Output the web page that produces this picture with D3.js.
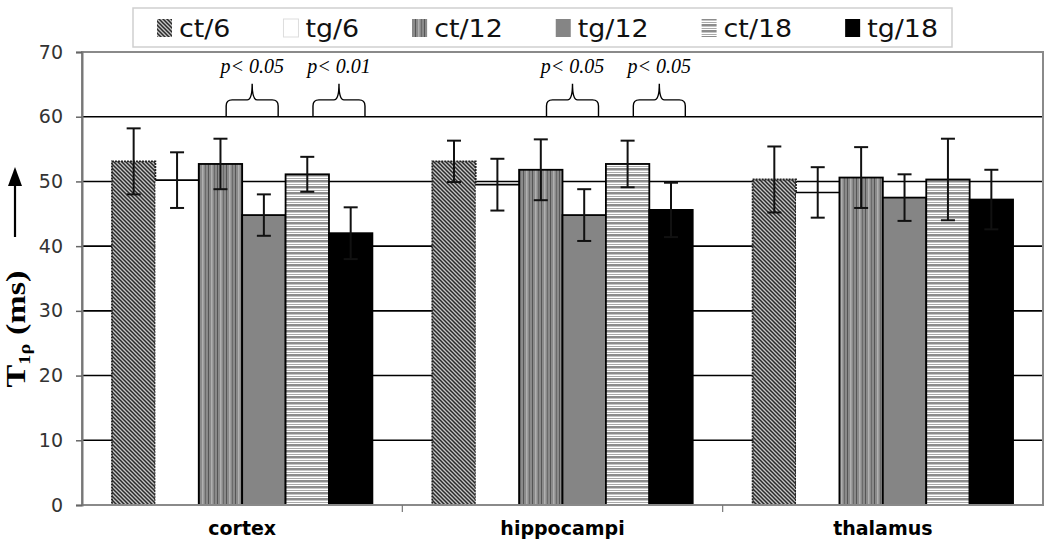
<!DOCTYPE html>
<html><head><meta charset="utf-8">
<script src="https://cdn.jsdelivr.net/npm/d3@7"></script>
<style>body{margin:0;background:#fff}</style>
</head><body>
<svg id="c" width="1050" height="543"></svg>
<script>
// ---- data ----
const categories = ["cortex", "hippocampi", "thalamus"];
const series = ["ct/6", "tg/6", "ct/12", "tg/12", "ct/18", "tg/18"];
const ct6  = [53.1, 53.1, 50.3];
const tg6  = [50.2, 49.5, 48.3];
const ct12 = [52.7, 51.8, 50.6];
const tg12 = [44.8, 44.8, 47.5];
const ct18 = [51.1, 52.7, 50.3];
const tg18 = [42.0, 45.6, 47.2];
const ct6Err  = [5.1, 3.2, 5.1];
const tg6Err  = [4.3, 4.0, 3.9];
const ct12Err = [3.9, 4.7, 4.7];
const tg12Err = [3.2, 4.0, 3.6];
const ct18Err = [2.7, 3.6, 6.3];
const tg18Err = [4.0, 4.2, 4.6];
const yTicks = [0, 10, 20, 30, 40, 50, 60, 70];
const sigCategory = ["cortex", "cortex", "hippocampi", "hippocampi"];
const sigLeft  = ["tg/12", "tg/18", "tg/12", "tg/18"];
const sigLabel = ["p< 0.05", "p< 0.01", "p< 0.05", "p< 0.05"];
const yLabelMain = "T", yLabelSub = "1\u03C1", yLabelUnit = " (ms)";

const values = [ct6, tg6, ct12, tg12, ct18, tg18];
const errors = [ct6Err, tg6Err, ct12Err, tg12Err, ct18Err, tg18Err];
const rows = [];
categories.forEach((c, ci) => series.forEach((s, si) =>
  rows.push({cat: c, ser: s, v: values[si][ci], e: errors[si][ci]})));

// ---- layout ----
const L = 82, R = 1043, T = 52, B = 505;
const svg = d3.select("#c");
const x = d3.scaleBand().domain(categories).range([L, R]).padding(0);
const xs = d3.scaleBand().domain(series).range([0, x.bandwidth()]).paddingInner(0).paddingOuter(0.69);
const y = d3.scaleLinear().domain([0, 70]).range([B, T]);

// patterns
const defs = svg.append("defs");
const p1 = defs.append("pattern").attr("id", "pDiag").attr("patternUnits", "userSpaceOnUse")
  .attr("width", 4).attr("height", 4);
p1.append("rect").attr("width", 4).attr("height", 4).attr("fill", "#c4c4c4");
p1.append("path").attr("d", "M-1,-1L5,5M-1,3L1,5M3,-1L5,1").attr("stroke", "#2a2a2a").attr("stroke-width", 1.5);
const p2 = defs.append("pattern").attr("id", "pVert").attr("patternUnits", "userSpaceOnUse")
  .attr("width", 9).attr("height", 4);
p2.append("rect").attr("width", 9).attr("height", 4).attr("fill", "#8a8a8a");
p2.append("rect").attr("x", 1).attr("width", 1).attr("height", 4).attr("fill", "#555");
p2.append("rect").attr("x", 4).attr("width", 1.5).attr("height", 4).attr("fill", "#b0b0b0");
p2.append("rect").attr("x", 7).attr("width", 1).attr("height", 4).attr("fill", "#6a6a6a");
const p3 = defs.append("pattern").attr("id", "pHorz").attr("patternUnits", "userSpaceOnUse")
  .attr("width", 4).attr("height", 6);
p3.append("rect").attr("width", 4).attr("height", 6).attr("fill", "#ffffff");
p3.append("rect").attr("y", 0).attr("width", 4).attr("height", 2.5).attr("fill", "#8c8c8c");
p3.append("rect").attr("y", 4).attr("width", 4).attr("height", 1).attr("fill", "#aaaaaa");

const fills = {"ct/6": "url(#pDiag)", "tg/6": "#ffffff", "ct/12": "url(#pVert)",
  "tg/12": "#858585", "ct/18": "url(#pHorz)", "tg/18": "#000000"};

// gridlines
svg.append("g").selectAll("line").data(yTicks.filter(t => t > 0 && t < 70)).join("line")
  .attr("x1", L).attr("x2", R).attr("y1", d => y(d)).attr("y2", d => y(d))
  .attr("stroke", "#000").attr("stroke-width", 1.6);

// bars
const bars = svg.append("g");
bars.selectAll("rect").data(rows).join("rect")
  .attr("x", d => x(d.cat) + xs(d.ser)).attr("width", xs.bandwidth())
  .attr("y", d => y(d.v)).attr("height", d => y(0) - y(d.v))
  .attr("fill", d => fills[d.ser])
  .attr("stroke", d => d.ser === "tg/6" ? "none" : (d.ser === "ct/6" ? "#222" : "#000"))
  .attr("stroke-dasharray", d => d.ser === "ct/6" ? "2,1" : null)
  .attr("stroke-width", 1.8);
bars.selectAll("line.top").data(rows.filter(d => d.ser === "tg/6")).join("line").attr("class", "top")
  .attr("x1", d => x(d.cat) + xs(d.ser)).attr("x2", d => x(d.cat) + xs(d.ser) + xs.bandwidth())
  .attr("y1", d => y(d.v)).attr("y2", d => y(d.v)).attr("stroke", "#000").attr("stroke-width", 1.6);

// error bars
const eb = svg.append("g").attr("stroke", "#111").attr("stroke-width", 2);
rows.forEach(d => {
  const cx = x(d.cat) + xs(d.ser) + xs.bandwidth() / 2;
  eb.append("line").attr("x1", cx).attr("x2", cx).attr("y1", y(d.v + d.e)).attr("y2", y(d.v - d.e));
  [d.v + d.e, d.v - d.e].forEach(v => eb.append("line").attr("x1", cx - 7).attr("x2", cx + 7)
    .attr("y1", y(v)).attr("y2", y(v)));
});

// frame
svg.append("rect").attr("x", L).attr("y", T).attr("width", R - L).attr("height", B - T)
  .attr("fill", "none").attr("stroke", "#8a8a8a").attr("stroke-width", 2);

// y axis
const ya = svg.append("g").attr("transform", `translate(${L},0)`)
  .call(d3.axisLeft(y).tickValues(yTicks).tickSize(6).tickPadding(13).tickFormat(d3.format("d")));
ya.select(".domain").attr("stroke", "#777").attr("stroke-width", 2);
ya.selectAll(".tick line").attr("stroke", "#666").attr("stroke-width", 1.5);
ya.selectAll(".tick text").attr("font-family", "DejaVu Sans").attr("font-size", 19).attr("fill", "#333");

// x axis
const xa = svg.append("g").attr("transform", `translate(0,${B})`)
  .call(d3.axisBottom(x).tickSize(0).tickPadding(17));
xa.select(".domain").remove();
xa.selectAll(".tick text").attr("font-family", "DejaVu Sans").attr("font-weight", "bold")
  .attr("font-size", 19).attr("fill", "#000");
svg.append("g").selectAll("line").data(categories.slice(1)).join("line")
  .attr("x1", d => x(d)).attr("x2", d => x(d)).attr("y1", B).attr("y2", B + 7)
  .attr("stroke", "#777").attr("stroke-width", 1.2);

// significance braces
const sg = svg.append("g");
sigCategory.forEach((c, i) => {
  const bx = x(c) + xs(sigLeft[i]);
  const xc = bx + 10, x1 = xc - 26, x2 = xc + 26;
  const yb = y(60), yt = y(62.6), yp = y(65.1);
  const d = `M${x1},${yb} L${x1},${yt + 6} Q${x1},${yt} ${x1 + 6},${yt} L${xc - 5},${yt} Q${xc},${yt} ${xc},${yp}` +
            ` Q${xc},${yt} ${xc + 5},${yt} L${x2 - 6},${yt} Q${x2},${yt} ${x2},${yt + 6} L${x2},${yb}`;
  sg.append("path").attr("d", d).attr("fill", "none").attr("stroke", "#000").attr("stroke-width", 1.4);
  sg.append("text").attr("x", xc).attr("y", y(66.7)).attr("text-anchor", "middle")
    .attr("font-family", "Liberation Serif").attr("font-style", "italic").attr("font-size", 20)
    .text(sigLabel[i]);
});

// y label and arrow
const yl = svg.append("text").attr("transform", "translate(25,329) rotate(-90)")
  .attr("text-anchor", "middle").attr("font-family", "Liberation Serif").attr("font-weight", "bold")
  .attr("font-size", 27).attr("textLength", 117).attr("lengthAdjust", "spacingAndGlyphs");
yl.append("tspan").text(yLabelMain);
yl.append("tspan").attr("font-size", 16).attr("dy", 5).text(yLabelSub);
yl.append("tspan").attr("dy", -5).text(yLabelUnit);
svg.append("line").attr("x1", 15).attr("x2", 15).attr("y1", 237).attr("y2", 182)
  .attr("stroke", "#000").attr("stroke-width", 2.2);
svg.append("path").attr("d", "M15,167L8,186L22,186Z").attr("fill", "#000");

// legend
const lg = svg.append("g");
lg.append("rect").attr("x", 133).attr("y", 8).attr("width", 819).attr("height", 39)
  .attr("fill", "#fff").attr("stroke", "#cfcfcf").attr("stroke-width", 1.5);
let lx = 157;
series.forEach(s => {
  lg.append("rect").attr("x", lx).attr("y", 19).attr("width", 15).attr("height", 18)
    .attr("fill", fills[s]).attr("stroke", s === "tg/6" ? "#ddd" : "none").attr("stroke-width", 1);
  const t = lg.append("text").attr("transform", `translate(${lx + 22},37) scale(1.12,1)`)
    .attr("font-family", "DejaVu Sans").attr("font-size", 24).attr("fill", "#111").text(s);
  lx += 22 + t.node().getComputedTextLength() * 1.12 + 53;
});
</script>
</body></html>
